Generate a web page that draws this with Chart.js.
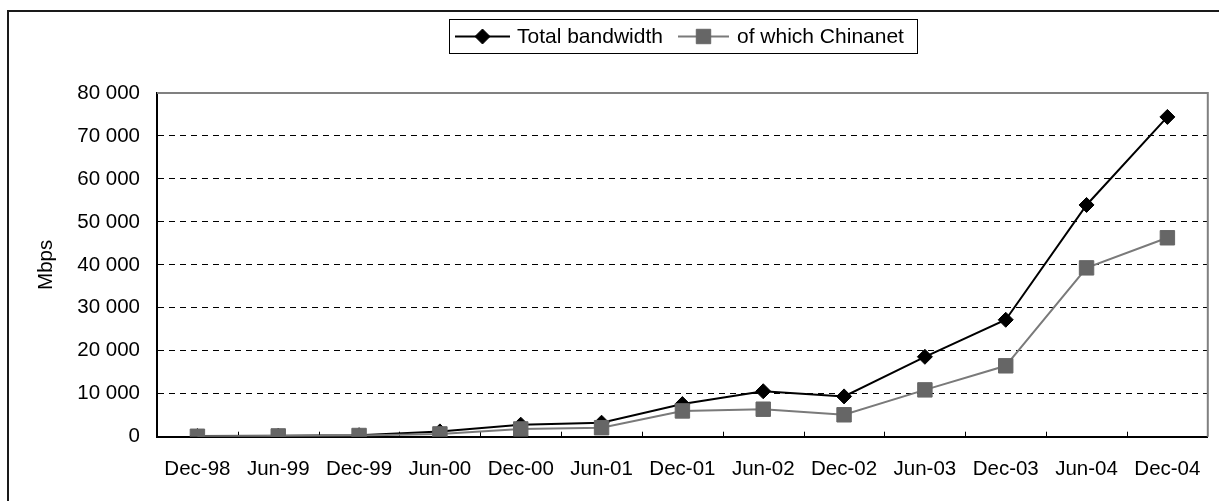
<!DOCTYPE html>
<html>
<head>
<meta charset="utf-8">
<title>International bandwidth</title>
<script src="https://cdn.jsdelivr.net/npm/chart.js@4.4.1/dist/chart.umd.min.js"></script>
<style>
  html, body { margin: 0; padding: 0; background: #fff; }
  canvas { display: block; }
</style>
</head>
<body>
<canvas id="chart" width="1219" height="501"></canvas>
<script>
// Half-year reporting periods
const periods = ['Dec-98', 'Jun-99', 'Dec-99', 'Jun-00', 'Dec-00', 'Jun-01', 'Dec-01',
                 'Jun-02', 'Dec-02', 'Jun-03', 'Dec-03', 'Jun-04', 'Dec-04'];

// International bandwidth, Mbps
const totalBandwidth = [143, 241, 351, 1234, 2799, 3257, 7598, 10576, 9380, 18599, 27216, 53941, 74429];
const chinanetBandwidth = [100, 180, 280, 650, 1800, 2100, 6000, 6400, 5100, 10900, 16500, 39300, 46300];

const seriesNames = ['Total bandwidth', 'of which Chinanet'];

// Value axis
const yMin = 0;
const yMax = 80000;
const yStep = 10000;
const yTitle = 'Mbps';

const FONT = '"Liberation Sans", Arial, sans-serif';
const AXIS_FONT_SIZE = 20.5;
const LEGEND_FONT_SIZE = 21;

function spacedThousands(v) {
  return String(v).replace(/\B(?=(\d{3})+(?!\d))/g, ' ');
}

function drawMarker(ctx, style, radius, x, y, fill) {
  ctx.save();
  ctx.fillStyle = fill;
  ctx.strokeStyle = fill;
  ctx.lineWidth = 1;
  ctx.beginPath();
  if (style === 'rectRot') {
    ctx.moveTo(x - radius, y);
    ctx.lineTo(x, y - radius);
    ctx.lineTo(x + radius, y);
    ctx.lineTo(x, y + radius);
  } else {
    const h = radius * Math.SQRT1_2;
    ctx.rect(x - h, y - h, 2 * h, 2 * h);
  }
  ctx.closePath();
  ctx.fill();
  ctx.stroke();
  ctx.restore();
}

// Outer frame, plot border, inward category ticks and the boxed legend
const decorations = {
  id: 'decorations',
  beforeDraw(chart) {
    const ctx = chart.ctx;
    ctx.save();
    ctx.fillStyle = '#fff';
    ctx.fillRect(0, 0, chart.width, chart.height);
    ctx.strokeStyle = '#1a1a1a';
    ctx.lineWidth = 2;
    ctx.beginPath();
    ctx.moveTo(8, chart.height);
    ctx.lineTo(8, 11);
    ctx.lineTo(chart.width, 11);
    ctx.stroke();
    ctx.restore();
  },
  beforeDatasetsDraw(chart) {
    const ctx = chart.ctx;
    const a = chart.chartArea;
    const xs = chart.scales.x;
    ctx.save();
    // plot area border (top and right)
    ctx.strokeStyle = '#808080';
    ctx.lineWidth = 2;
    ctx.beginPath();
    ctx.moveTo(a.left, a.top);
    ctx.lineTo(a.right, a.top);
    ctx.lineTo(a.right, a.bottom);
    ctx.stroke();
    // tick marks between categories, pointing into the plot
    const half = (xs.getPixelForValue(1) - xs.getPixelForValue(0)) / 2;
    ctx.strokeStyle = '#000';
    ctx.lineWidth = 1;
    ctx.beginPath();
    for (let i = 1; i < periods.length; i++) {
      const x = Math.round(xs.getPixelForValue(i) - half) + 0.5;
      ctx.moveTo(x, a.bottom);
      ctx.lineTo(x, a.bottom - 5);
    }
    ctx.stroke();
    ctx.restore();
  },
  afterDraw(chart) {
    const ctx = chart.ctx;
    const ds = chart.data.datasets;
    ctx.save();
    const box = { x: 449, y: 19, w: 468, h: 34 };
    ctx.strokeStyle = '#000';
    ctx.lineWidth = 1;
    ctx.strokeRect(box.x + 0.5, box.y + 0.5, box.w, box.h);
    const cy = box.y + box.h / 2 + 0.5;
    ctx.font = LEGEND_FONT_SIZE + 'px ' + FONT;
    ctx.textBaseline = 'middle';
    ctx.textAlign = 'left';
    ctx.fillStyle = '#000';
    const items = [
      { x0: 455, x1: 510, text: 517, d: ds.find(d => d.label === seriesNames[0]) },
      { x0: 678, x1: 729, text: 737, d: ds.find(d => d.label === seriesNames[1]) }
    ];
    items.forEach(it => {
      ctx.strokeStyle = it.d.borderColor;
      ctx.lineWidth = it.d.borderWidth;
      ctx.beginPath();
      ctx.moveTo(it.x0, cy);
      ctx.lineTo(it.x1, cy);
      ctx.stroke();
      drawMarker(ctx, it.d.pointStyle, it.d.pointRadius, (it.x0 + it.x1) / 2, cy, it.d.pointBackgroundColor);
      ctx.fillStyle = '#000';
      ctx.fillText(it.d.label, it.text, cy + 1);
    });
    ctx.restore();
  }
};

new Chart(document.getElementById('chart'), {
  type: 'line',
  data: {
    labels: periods,
    datasets: [
      {
        label: seriesNames[0],
        data: totalBandwidth,
        borderColor: '#000000',
        borderWidth: 2,
        pointStyle: 'rectRot',
        pointRadius: 7.5,
        pointBackgroundColor: '#000000',
        pointBorderColor: '#000000',
        pointBorderWidth: 1,
        tension: 0,
        order: 1
      },
      {
        label: seriesNames[1],
        data: chinanetBandwidth,
        borderColor: '#7a7a7a',
        borderWidth: 2,
        pointStyle: 'rect',
        pointRadius: 10.2,
        pointBackgroundColor: '#666666',
        pointBorderColor: '#666666',
        pointBorderWidth: 1,
        tension: 0,
        order: 0
      }
    ]
  },
  options: {
    responsive: false,
    animation: false,
    devicePixelRatio: 1,
    layout: { padding: { top: 93, right: 10, left: 0, bottom: 0 } },
    plugins: {
      legend: { display: false },
      tooltip: { enabled: false },
      title: { display: false }
    },
    scales: {
      x: {
        type: 'category',
        offset: true,
        grid: { display: false },
        border: { display: true, color: '#000', width: 2 },
        ticks: {
          color: '#000',
          font: { family: FONT, size: AXIS_FONT_SIZE },
          padding: 12,
          maxRotation: 0,
          autoSkip: false
        },
        afterFit(scale) { scale.height = 64.3; }
      },
      y: {
        min: yMin,
        max: yMax,
        grid: {
          display: true,
          color: '#000',
          lineWidth: 1,
          drawTicks: false
        },
        border: { display: true, color: '#000', width: 2, dash: [6, 5] },
        ticks: {
          stepSize: yStep,
          color: '#000',
          font: { family: FONT, size: AXIS_FONT_SIZE },
          padding: 17,
          callback: v => spacedThousands(v)
        },
        title: {
          display: true,
          text: yTitle,
          color: '#000',
          font: { family: FONT, size: AXIS_FONT_SIZE },
          padding: { top: 34, bottom: 0 }
        },
        afterFit(scale) { scale.width = 157; }
      }
    }
  },
  plugins: [decorations]
});
</script>
</body>
</html>
